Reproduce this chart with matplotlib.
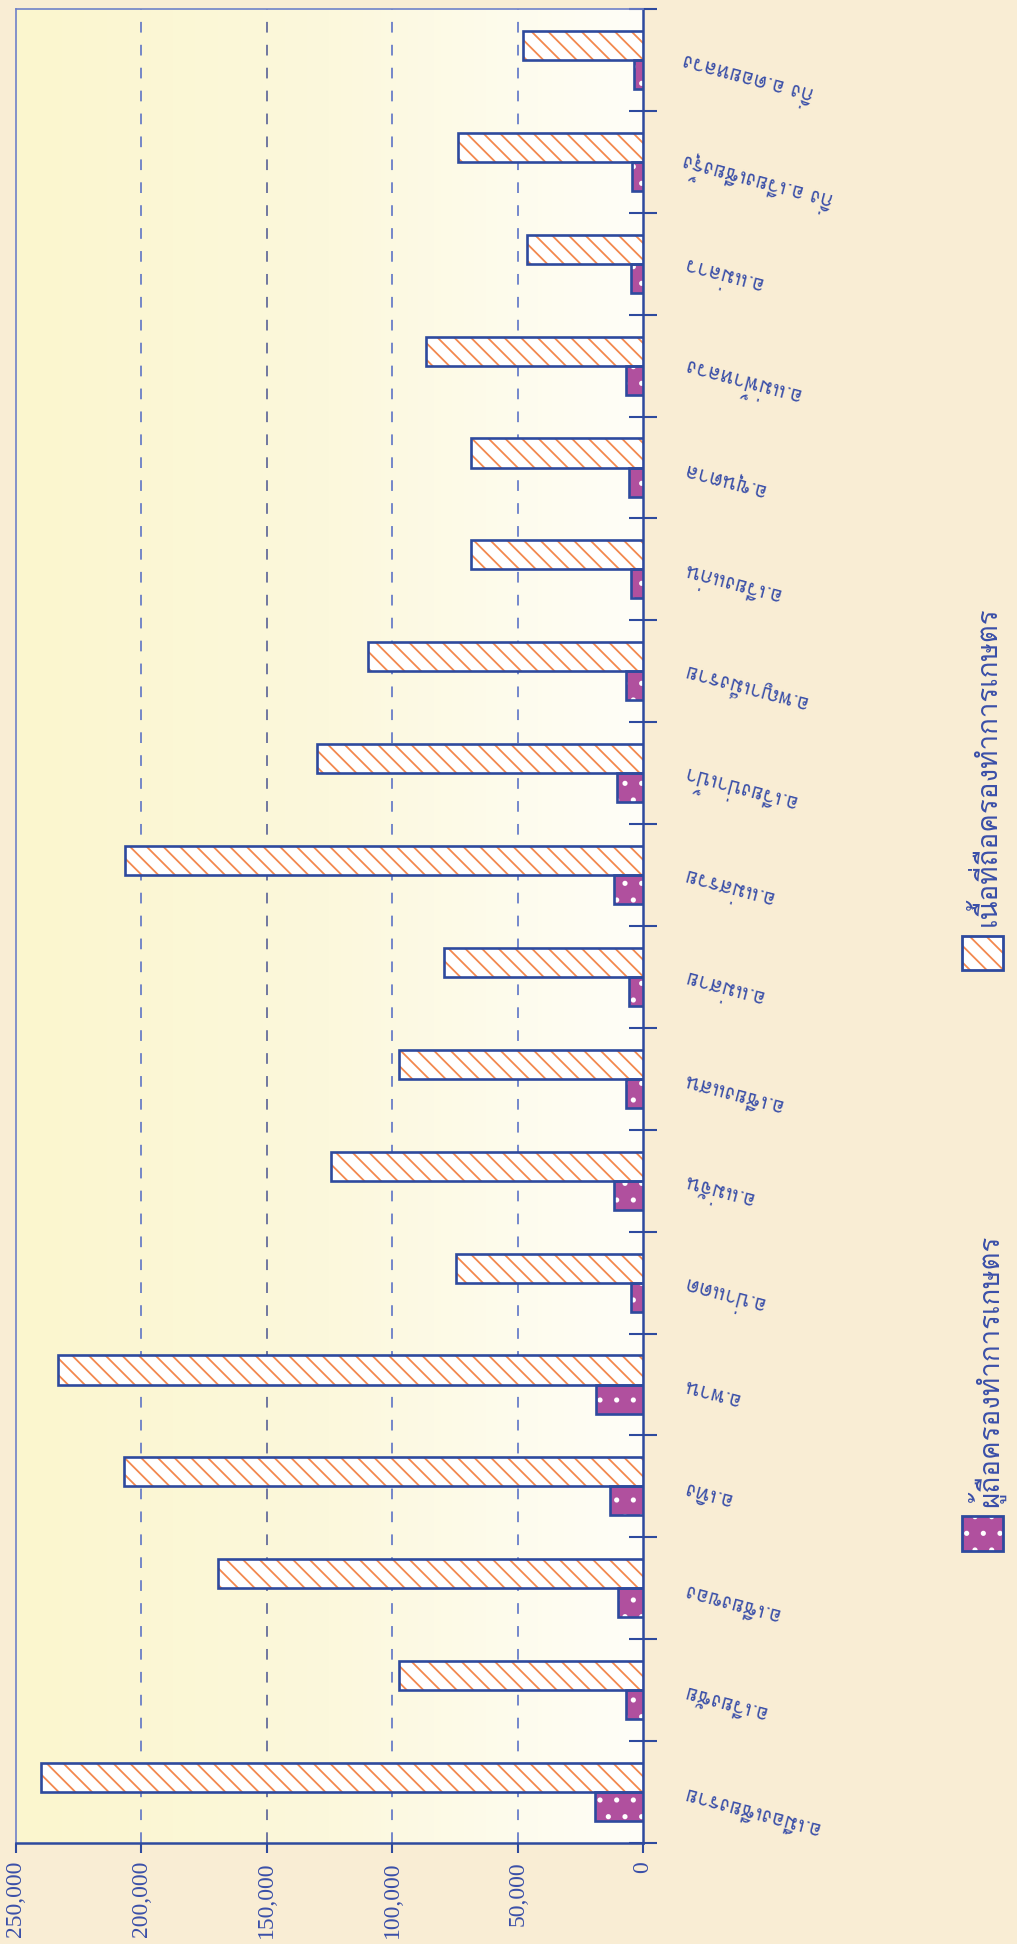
import matplotlib
matplotlib.use("Agg")
import matplotlib.pyplot as plt
import numpy as np
from matplotlib import font_manager
from matplotlib.ft2font import FT2Font
from matplotlib.patches import Rectangle
from matplotlib.colors import LinearSegmentedColormap

# ---------------- data ----------------
districts = [
    "อ.เมืองเชียงราย", "อ.เวียงชัย", "อ.เชียงของ", "อ.เทิง", "อ.พาน",
    "อ.ป่าแดด", "อ.แม่จัน", "อ.เชียงแสน", "อ.แม่สาย", "อ.แม่สรวย",
    "อ.เวียงป่าเป้า", "อ.พญาเม็งราย", "อ.เวียงแก่น", "อ.ขุนตาล",
    "อ.แม่ฟ้าหลวง", "อ.แม่ลาว", "กิ่ง อ.เวียงเชียงรุ้ง", "กิ่ง อ.ดอยหลวง",
]
holders = [19300, 6900, 9900, 13300, 18800, 4900, 11400, 6900, 5400,
           11400, 10400, 6900, 4900, 5400, 6900, 4900, 4400, 3500]
area = [240000, 97300, 169400, 207000, 233200, 74600, 124500, 97300, 79500,
        206500, 129900, 109700, 68700, 68700, 86400, 46400, 73600, 47900]
series_names = ["ผู้ถือครองทำการเกษตร", "เนื้อที่ถือครองทำการเกษตร"]
value_ticks = [0, 50000, 100000, 150000, 200000, 250000]

# ---------------- fonts ----------------
def find_font(ch):
    for f in font_manager.fontManager.ttflist:
        try:
            ft = FT2Font(f.fname)
            if ord(ch) in ft.get_charmap():
                return f.name
        except Exception:
            pass
    return None

thai = find_font("ก")
thai_family = ([thai] if thai else []) + ["DejaVu Sans"]

TXT = "#3A4FA8"
EDGE = "#2E4A9E"
PURPLE = "#B0509E"
ORANGE = "#F3884E"
HATCH_AREA = "\\\\"

W, H = 1017, 1944
fig = plt.figure(figsize=(W / 100, H / 100), dpi=100)
fig.patch.set_facecolor("#F9EDD4")

L, R, T, B = 16, 643, 9, 1843
ax = fig.add_axes([L / W, 1 - B / H, (R - L) / W, (B - T) / H])
ax.set_facecolor("none")

# gradient background of plot area
grad = np.linspace(0, 1, 256)[None, :]
cmap = LinearSegmentedColormap.from_list("bg", ["#FBF6CE", "#FCF8DC", "#FFFEF8"])
ax.imshow(grad, extent=[0, 1, 0, 1], transform=ax.transAxes, aspect="auto",
          cmap=cmap, zorder=0)

n = len(districts)
y = np.arange(n)
bw = 0.285

plt.rcParams["hatch.linewidth"] = 1.3
# holders (purple, lower)
ax.barh(y - bw / 2, holders, height=bw, color=PURPLE, edgecolor="white",
        hatch=".", linewidth=0, zorder=3)
ax.barh(y - bw / 2, holders, height=bw, facecolor="none", edgecolor=EDGE,
        linewidth=1.9, zorder=4)
# area (hatched, upper)
ax.barh(y + bw / 2, area, height=bw, color="white", edgecolor=ORANGE,
        hatch=HATCH_AREA, linewidth=0, zorder=3)
ax.barh(y + bw / 2, area, height=bw, facecolor="none", edgecolor=EDGE,
        linewidth=1.9, zorder=4)

ax.set_xlim(250000, 0)
ax.set_ylim(-0.5, n - 0.5)

# grid
for v, c in zip(value_ticks[1:-1], ["#4F68C4", "#4F68C4", "#4A5590", "#4F68C4"]):
    ax.axvline(v, color=c, lw=1.1, dashes=(7, 8), zorder=1)

# spines
for s in ["top", "left"]:
    ax.spines[s].set_color("#6F80C8")
    ax.spines[s].set_linewidth(1.2)
ax.spines["right"].set_color(EDGE)
ax.spines["right"].set_linewidth(1.8)
ax.spines["bottom"].set_color(EDGE)
ax.spines["bottom"].set_linewidth(1.8)

# value axis ticks
ax.set_xticks(value_ticks)
ax.set_xticklabels([f"{v:,}" for v in value_ticks], rotation=90,
                   family="Liberation Serif", fontsize=17, color=TXT)
ax.tick_params(axis="x", direction="out", length=7, width=1.5, color=EDGE, pad=6)

# category axis on right with boundary ticks
ax.yaxis.tick_right()
ax.set_yticks([])
ax.set_yticks(np.arange(-0.5, n, 1.0), minor=True)
ax.tick_params(axis="y", which="minor", direction="inout", length=20,
               width=1.5, color=EDGE, right=True, left=False)
ax.tick_params(axis="y", which="major", right=False, left=False)

# category labels (upside down, slanted)
lab_x = 1 + (683 - R) / (R - L)
for i, name in enumerate(districts):
    ax.text(lab_x, i, name, transform=ax.get_yaxis_transform(),
            rotation=165, rotation_mode="anchor", ha="right", va="center",
            fontsize=15, color=TXT, family=thai_family, clip_on=False)

# legend (manual)
for (ybox0, ybox1), fc, ec, hatch, txt_bottom, name in [
    ((1516, 1551), PURPLE, "white", ".", 1507, series_names[0]),
    ((936, 970), "white", ORANGE, HATCH_AREA, 926, series_names[1]),
]:
    x0, x1 = 962, 1003
    fig.patches.append(Rectangle((x0 / W, 1 - ybox1 / H), (x1 - x0) / W,
                                 (ybox1 - ybox0) / H, transform=fig.transFigure,
                                 facecolor=fc, edgecolor=ec, hatch=hatch,
                                 linewidth=0))
    fig.patches.append(Rectangle((x0 / W, 1 - ybox1 / H), (x1 - x0) / W,
                                 (ybox1 - ybox0) / H, transform=fig.transFigure,
                                 facecolor="none", edgecolor=EDGE, linewidth=2))
    fig.text(986 / W, 1 - txt_bottom / H, name, rotation=90, ha="center",
             va="bottom", fontsize=20, color=TXT, family=thai_family)

fig.savefig("out.png", dpi=100, facecolor=fig.get_facecolor())
